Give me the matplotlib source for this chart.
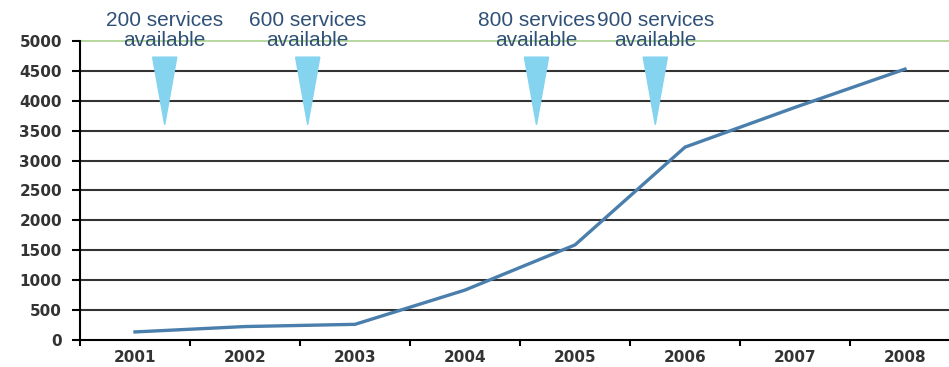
import numpy as np
from matplotlib import pyplot as plt

years = ["2001", "2002", "2003", "2004", "2005", "2006", "2007", "2008"]
services = [135, 225, 262, 835, 1590, 3225, 3890, 4530]

milestone_labels = ["200 services\navailable", "600 services\navailable",
                    "800 services\navailable", "900 services\navailable"]
milestone_pos = [0.27, 1.57, 3.65, 4.73]

fig = plt.figure(figsize=(9.49, 3.67), dpi=100)
# axis runs past the right edge of the figure, like the original slide
ax = fig.add_axes([80 / 949, 1 - 340 / 367, 880 / 949, 299 / 367])

x = np.arange(len(years))
ax.set_xlim(-0.5, len(years) - 0.5)
ax.set_ylim(0, 5000)

# horizontal gridlines, top one green
for v in range(500, 5000, 500):
    ax.axhline(v, color="#333333", lw=1.5, zorder=1)
ax.axhline(5000, color="#a9d18e", lw=1.2, zorder=1, clip_on=False)

ax.plot(x, services, color="#4a7eac", lw=2.4, zorder=3)

# milestone arrows
for pos, label in zip(milestone_pos, milestone_labels):
    ax.fill([pos - 0.11, pos + 0.11, pos], [4730, 4730, 3600],
            color="#84d3ef", zorder=4, clip_on=False)
    ax.text(pos, 5180, label, ha="center", va="center", fontsize=15,
            family="Liberation Sans", color="#2f5077", linespacing=1.05,
            clip_on=False)

for s in ["top", "right"]:
    ax.spines[s].set_visible(False)
ax.spines["left"].set_linewidth(1.5)
ax.spines["bottom"].set_linewidth(1.5)

ax.set_yticks(range(0, 5001, 500))
ax.set_xticks(x)
ax.set_xticklabels(years)
ax.set_xticks(np.arange(-0.5, len(years) + 0.5, 1), minor=True)
ax.tick_params(axis="x", which="major", length=0, pad=7.5)
ax.tick_params(axis="x", which="minor", length=4.5, width=1.5)
ax.tick_params(axis="y", length=6, width=1.5, pad=7)
for lab in ax.get_xticklabels() + ax.get_yticklabels():
    lab.set_family("DejaVu Sans")
    lab.set_fontweight("bold")
    lab.set_fontsize(11)
    lab.set_color("#333333")

plt.savefig("out.png", dpi=100)
